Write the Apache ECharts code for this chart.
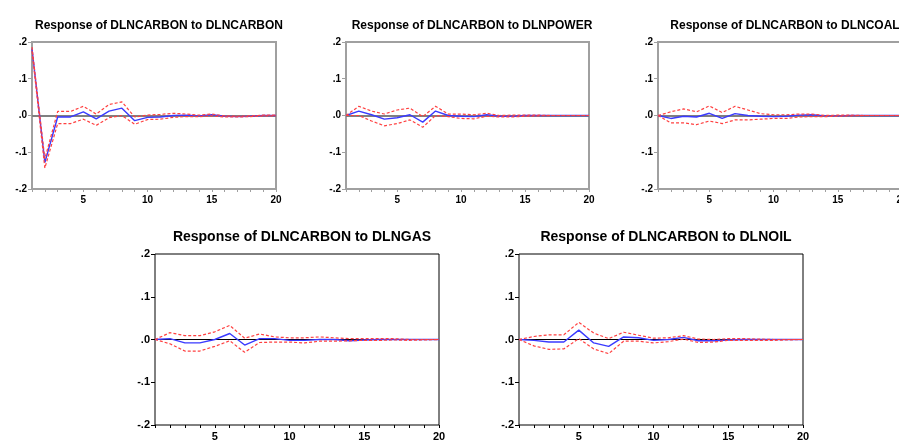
<!DOCTYPE html>
<html>
<head>
<meta charset="utf-8">
<script src="https://cdn.jsdelivr.net/npm/echarts@6/dist/echarts.min.js"></script>
<style>
html,body{margin:0;padding:0;background:#fff;}
#chart{width:899px;height:443px;}
</style>
</head>
<body>
<div id="chart"></div>
<script>
// Periods
var periods = [1,2,3,4,5,6,7,8,9,10,11,12,13,14,15,16,17,18,19,20];
var yTicks = ['.2', '.1', '.0', '-.1', '-.2'];
var titles = [
  'Response of DLNCARBON to DLNCARBON',
  'Response of DLNCARBON to DLNPOWER',
  'Response of DLNCARBON to DLNCOAL',
  'Response of DLNCARBON to DLNGAS',
  'Response of DLNCARBON to DLNOIL'
];

// DLNCARBON -> DLNCARBON
var carbonResp  = [0.182,-0.128,-0.004,-0.004,0.010,-0.009,0.012,0.020,-0.014,-0.005,-0.004,0.000,0.001,-0.001,0.002,-0.002,-0.003,-0.002,0.000,0.000];
var carbonUpper = [0.186,-0.118,0.011,0.011,0.025,0.004,0.030,0.037,-0.004,0.001,0.003,0.006,0.004,0.001,0.004,-0.001,-0.002,-0.001,0.001,0.001];
var carbonLower = [0.176,-0.143,-0.022,-0.022,-0.010,-0.027,-0.006,0.000,-0.024,-0.011,-0.010,-0.005,-0.003,-0.003,-0.001,-0.004,-0.004,-0.003,-0.001,-0.001];

// DLNCARBON -> DLNPOWER
var powerResp  = [0.000,0.012,0.002,-0.010,-0.006,0.002,-0.018,0.012,0.000,-0.002,-0.003,0.002,-0.002,-0.002,0.000,0.000,0.000,0.000,0.000,0.000];
var powerUpper = [0.000,0.025,0.012,0.004,0.015,0.020,-0.003,0.025,0.004,0.004,0.002,0.006,0.000,0.001,0.001,0.001,0.000,0.000,0.000,0.000];
var powerLower = [0.000,0.000,-0.015,-0.028,-0.022,-0.012,-0.032,0.000,-0.003,-0.008,-0.009,-0.002,-0.004,-0.004,-0.002,-0.001,0.000,0.000,0.000,0.000];

// DLNCARBON -> DLNCOAL
var coalResp  = [0.000,-0.008,-0.002,-0.004,0.006,-0.008,0.005,0.000,-0.002,-0.003,-0.002,0.001,0.002,-0.001,-0.001,0.000,0.000,0.000,0.000,0.000];
var coalUpper = [0.000,0.010,0.018,0.010,0.026,0.008,0.025,0.015,0.005,0.002,0.002,0.004,0.004,0.000,0.001,0.001,0.000,0.000,0.000,0.000];
var coalLower = [0.000,-0.020,-0.020,-0.025,-0.015,-0.022,-0.012,-0.012,-0.010,-0.008,-0.008,-0.004,-0.003,-0.003,-0.002,-0.001,0.000,0.000,0.000,0.000];

// DLNCARBON -> DLNGAS
var gasResp  = [0.000,0.002,-0.008,-0.008,0.000,0.014,-0.013,0.002,0.002,-0.002,-0.002,0.000,0.000,-0.003,-0.001,0.000,0.000,0.000,0.000,0.000];
var gasUpper = [0.000,0.016,0.009,0.009,0.018,0.033,0.003,0.013,0.006,0.004,0.004,0.006,0.004,0.002,0.002,0.002,0.002,0.000,0.000,0.000];
var gasLower = [0.000,-0.010,-0.027,-0.027,-0.016,-0.003,-0.030,-0.007,-0.006,-0.006,-0.008,-0.004,-0.004,-0.003,-0.002,-0.002,-0.001,-0.002,-0.001,0.000];

// DLNCARBON -> DLNOIL
var oilResp  = [0.000,-0.002,-0.006,-0.006,0.022,-0.008,-0.016,0.006,0.004,-0.002,0.000,0.005,-0.003,-0.003,-0.001,0.000,0.000,0.000,0.000,0.000];
var oilUpper = [0.000,0.007,0.011,0.011,0.040,0.015,0.002,0.017,0.010,0.003,0.004,0.009,0.001,0.000,0.002,0.002,0.001,0.000,0.000,0.000];
var oilLower = [0.000,-0.015,-0.023,-0.022,0.002,-0.022,-0.033,-0.004,-0.004,-0.008,-0.005,0.001,-0.007,-0.006,-0.002,-0.002,-0.002,-0.002,-0.001,0.000];

var panelData = [
  [carbonResp, carbonUpper, carbonLower],
  [powerResp, powerUpper, powerLower],
  [coalResp, coalUpper, coalLower],
  [gasResp, gasUpper, gasLower],
  [oilResp, oilUpper, oilLower]
];

var layout = [
  {left:32,  top:42,  width:244, height:147, tx:154, ty:21,  tsize:12, lsize:10, frame:'#a0a0a0', fw:2, zero:'#808080'},
  {left:346, top:42,  width:243, height:147, tx:467, ty:21,  tsize:12, lsize:10, frame:'#a0a0a0', fw:2, zero:'#808080'},
  {left:658, top:42,  width:244, height:147, tx:780, ty:21,  tsize:12, lsize:10, frame:'#a0a0a0', fw:2, zero:'#808080'},
  {left:155, top:254, width:284, height:171, tx:297, ty:232, tsize:14, lsize:11, frame:'#000000', fw:1, zero:'#000000'},
  {left:519, top:254, width:284, height:171, tx:661, ty:232, tsize:14, lsize:11, frame:'#000000', fw:1, zero:'#000000'}
];

function pairs(arr){ return periods.map(function(p,i){ return [p, arr[i]]; }); }

var grids=[], xAxes=[], yAxes=[], series=[], titleArr=[];
layout.forEach(function(L, k){
  grids.push({left:L.left, top:L.top, width:L.width, height:L.height, show:true,
              containLabel:false, outerBoundsMode:'none',
              borderColor:L.frame, borderWidth:L.fw, backgroundColor:'#fff'});
  titleArr.push({text:titles[k], left:L.tx, top:L.ty, textAlign:'center', textVerticalAlign:'middle',
    textStyle:{fontFamily:'Liberation Sans, Arial', fontWeight:'bold', fontSize:L.tsize, color:'#000'}});
  xAxes.push({type:'value', gridIndex:k, min:1, max:20, interval:1,
    axisLine:{show:false, onZero:false}, splitLine:{show:false},
    axisTick:{show:true, length:3, inside:false, lineStyle:{color:L.frame, width:1}},
    axisLabel:{margin:6, fontFamily:'Liberation Sans, Arial', fontWeight:'bold', fontSize:L.lsize, color:'#000',
      showMinLabel:true, showMaxLabel:true,
      formatter:function(v){ return (Math.round(v)%5===0) ? String(Math.round(v)) : ''; }}});
  yAxes.push({type:'value', gridIndex:k, min:-0.2, max:0.2, interval:0.1,
    axisLine:{show:false, onZero:false}, splitLine:{show:false},
    axisTick:{show:true, length:4, lineStyle:{color:L.frame, width:1}},
    axisLabel:{margin:5, fontFamily:'Liberation Sans, Arial', fontWeight:'bold', fontSize:L.lsize, color:'#000',
      formatter:function(v){ var i = Math.round((0.2 - v)*10); return yTicks[i]; }}});
  var d = panelData[k];
  series.push({type:'line', xAxisIndex:k, yAxisIndex:k, data:pairs(d[0]), symbol:'none', z:3,
    lineStyle:{color:'#3a3aff', width:1.4},
    markLine:{silent:true, symbol:'none', label:{show:false}, z:1,
      lineStyle:{color:L.zero, type:'solid', width:L.fw===2?2:1},
      data:[{yAxis:0}]}});
  series.push({type:'line', xAxisIndex:k, yAxisIndex:k, data:pairs(d[1]), symbol:'none', z:4,
    lineStyle:{color:'#ff4040', width:1.2, type:[3,2]}});
  series.push({type:'line', xAxisIndex:k, yAxisIndex:k, data:pairs(d[2]), symbol:'none', z:4,
    lineStyle:{color:'#ff4040', width:1.2, type:[3,2]}});
});

var chart = echarts.init(document.getElementById('chart'), null, {renderer:'canvas'});
chart.setOption({
  animation:false,
  backgroundColor:'#fff',
  title:titleArr,
  grid:grids,
  xAxis:xAxes,
  yAxis:yAxes,
  series:series
});
</script>
</body>
</html>
